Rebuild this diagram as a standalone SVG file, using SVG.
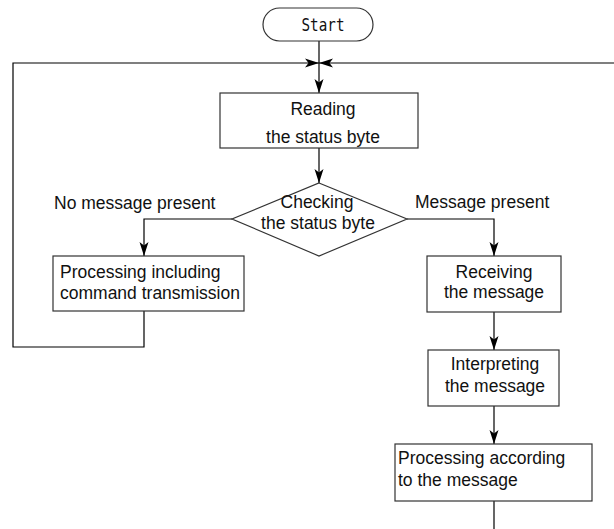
<svg xmlns="http://www.w3.org/2000/svg" width="614" height="529" viewBox="0 0 614 529">
<style>
  .box{fill:#fff;stroke:#333;stroke-width:1.2}
  .ln{fill:none;stroke:#000;stroke-width:1.2}
  .t{font-family:"Liberation Sans",Arial,sans-serif;font-size:17.5px;fill:#111}
  .c{text-anchor:middle}
  .m{font-family:"DejaVu Sans Mono","Liberation Mono",monospace;font-size:17px;fill:#111}
</style>
<defs>
  <marker id="ah" viewBox="-15 -6 16 12" refX="0" refY="0" markerWidth="16" markerHeight="12" markerUnits="userSpaceOnUse" orient="auto">
    <path d="M0,0 L-14,-4.5 L-10.5,0 L-14,4.5 Z" fill="#000"/>
  </marker>
</defs>
<rect width="614" height="529" fill="#fff"/>
<g id="connectors">
  <path class="ln" d="M319,41 V93" marker-end="url(#ah)"/>
  <path class="ln" d="M144,311 V347 H13 V63 H319" marker-end="url(#ah)"/>
  <path class="ln" d="M614,63 H319" marker-end="url(#ah)"/>
  <path class="ln" d="M319,148 V183" marker-end="url(#ah)"/>
  <path class="ln" d="M232,219 H144 V256" marker-end="url(#ah)"/>
  <path class="ln" d="M407,219 H494 V256" marker-end="url(#ah)"/>
  <path class="ln" d="M494,312 V350" marker-end="url(#ah)"/>
  <path class="ln" d="M494,406 V444" marker-end="url(#ah)"/>
  <path class="ln" d="M494,501 V529"/>
</g>
<g id="start">
  <rect class="box" x="263" y="8" width="110" height="33" rx="16.5"/>
  <text class="m c" x="323" y="31" textLength="43" lengthAdjust="spacingAndGlyphs">Start</text>
</g>
<g id="reading">
  <rect class="box" x="220" y="93" width="198" height="55"/>
  <text class="t c" x="323" y="115">Reading</text>
  <text class="t c" x="323" y="143">the status byte</text>
</g>
<g id="checking">
  <polygon class="box" points="319,183 407,219 319,256 232,219"/>
  <text class="t c" x="317" y="208">Checking</text>
  <text class="t c" x="318" y="229">the status byte</text>
</g>
<g id="label-no">
  <text class="t" x="54" y="209">No message present</text>
</g>
<g id="label-yes">
  <text class="t" x="415" y="208">Message present</text>
</g>
<g id="processing-cmd">
  <rect class="box" x="53" y="256" width="191" height="55"/>
  <text class="t" x="60" y="278">Processing including</text>
  <text class="t" x="60" y="299">command transmission</text>
</g>
<g id="receiving">
  <rect class="box" x="427" y="256" width="134" height="56"/>
  <text class="t c" x="494" y="278">Receiving</text>
  <text class="t c" x="494" y="298">the message</text>
</g>
<g id="interpreting">
  <rect class="box" x="428" y="350" width="131" height="56"/>
  <text class="t c" x="495" y="370">Interpreting</text>
  <text class="t c" x="495" y="392">the message</text>
</g>
<g id="processing-msg">
  <rect class="box" x="395" y="444" width="197" height="57"/>
  <text class="t" x="398" y="464">Processing according</text>
  <text class="t" x="398" y="486">to the message</text>
</g>
</svg>
